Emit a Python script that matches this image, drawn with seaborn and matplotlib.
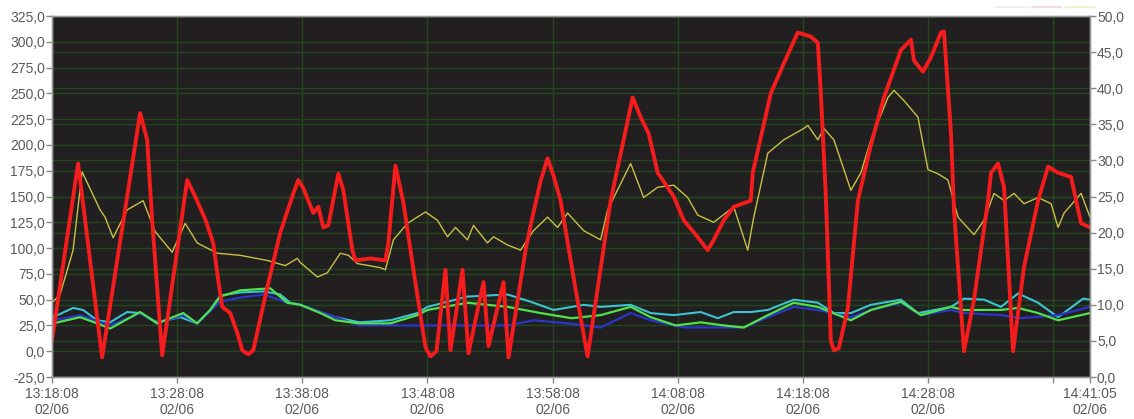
import matplotlib
matplotlib.use("Agg")
import matplotlib.pyplot as plt
import seaborn as sns
import pandas as pd
from matplotlib.lines import Line2D

# ---- data: time in minutes after 13:18:08, values on the left scale ----
red_t = [0.0, 2.08, 4.0, 7.04, 7.6, 8.0, 8.8, 10.8, 11.44, 12.24, 12.88, 13.28, 13.6, 14.24,
         14.8, 15.2, 15.68, 16.08, 17.2, 18.24, 19.28, 19.68, 20.08, 20.88, 21.28, 21.68,
         22.08, 22.88, 23.28, 24.0, 24.24, 25.44, 26.64, 26.88, 27.44, 28.08, 28.88, 29.84,
         30.24, 30.72, 31.44, 31.84, 32.8, 33.28, 34.48, 34.88, 36.08, 36.48, 37.84, 38.3,
         39.04, 39.6, 40.08, 40.64, 41.84, 42.8, 44.64, 46.4, 47.04, 47.68, 48.4, 48.8, 49.68,
         50.48, 51.44, 52.4, 52.88, 53.68, 54.48, 55.84, 56.0, 57.44, 58.48, 59.6, 60.64, 61.2,
         61.44, 61.84, 62.24, 62.48, 62.88, 63.6, 64.4, 65.44, 66.48, 67.84, 68.64, 68.88,
         69.6, 70.24, 71.04, 71.28, 71.84, 72.08, 72.88, 73.68, 74.8, 75.04, 75.6, 76.08,
         76.8, 77.68, 78.8, 79.6, 80.4, 81.44, 82.0, 82.24, 82.95]
red_v = [11, 182, -6, 231, 205, 127, -4, 166, 150, 128, 105, 69, 43, 37,
         18, 1, -3, 1, 62, 115, 153, 166, 158, 134, 140, 120,
         122, 172, 156, 98, 88, 90, 88, 105, 180, 144, 79, 4,
         -5, 0, 79, 1, 79, -2, 67, 5, 67, -6, 98, 125,
         165, 187, 170, 146, 60, -5, 146, 246, 227, 211, 173, 166, 150,
         127, 113, 98, 108, 127, 140, 146, 173, 250, 279, 309, 305, 299,
         250, 150, 10, 1, 3, 42, 146, 200, 246, 292, 302, 282,
         271, 285, 309, 310, 211, 137, 0, 50, 146, 173, 182, 159,
         0, 82, 146, 179, 173, 169, 137, 124, 120]

yellow_t = [0.08, 0.64, 1.68, 2.4, 3.84, 4.24, 4.88, 6.0, 7.28, 8.24, 9.6, 10.64, 11.6, 13.2,
            15.04, 17.2, 18.64, 19.6, 19.84, 21.2, 22.0, 23.04, 23.68, 24.4, 26.24, 26.64,
            27.28, 28.4, 29.84, 30.8, 31.6, 32.24, 33.2, 33.68, 34.8, 35.28, 36.4, 37.44,
            38.48, 39.6, 40.4, 41.2, 42.48, 43.84, 44.4, 46.24, 47.28, 48.4, 49.68, 50.8,
            51.6, 52.88, 54.48, 55.6, 56.08, 57.2, 58.48, 60.08, 60.4, 61.2, 61.68, 62.48,
            63.84, 64.64, 65.44, 66.8, 67.28, 68.08, 69.2, 70.0, 70.8, 71.6, 72.4, 73.68,
            74.48, 75.28, 76.08, 76.88, 77.68, 78.8, 79.84, 80.4, 80.88, 82.24, 82.95]
yellow_v = [48, 55, 98, 174, 137, 130, 110, 137, 146, 116, 96, 124, 105, 95,
            93, 88, 83, 90, 86, 72, 76, 95, 93, 85, 81, 79,
            108, 124, 135, 127, 111, 120, 108, 122, 105, 111, 103, 98,
            117, 130, 120, 134, 117, 108, 137, 182, 149, 159, 161, 149,
            132, 125, 140, 98, 130, 192, 205, 216, 219, 205, 216, 205,
            156, 173, 205, 246, 253, 243, 227, 176, 172, 166, 130, 113,
            127, 153, 146, 153, 143, 149, 143, 120, 134, 153, 130]

cyan_t = [0.08, 1.68, 2.48, 3.6, 4.64, 6.0, 7.04, 8.4, 10.24, 11.6, 12.64, 13.44, 15.04,
          16.96, 18.24, 19.04, 19.84, 22.64, 24.56, 27.04, 29.2, 30.0, 33.2, 36.4, 38.24,
          40.08, 42.48, 43.84, 46.24, 47.84, 49.68, 51.84, 53.2, 54.48, 55.84, 57.2, 59.28,
          61.2, 62.48, 63.84, 65.44, 67.84, 69.2, 71.84, 72.88, 74.48, 75.84, 77.2, 78.8,
          80.4, 82.4, 82.95]
cyan_v = [33, 42, 40, 30, 28, 38, 37, 28, 33, 27, 40, 54, 57,
          58, 55, 47, 45, 33, 28, 30, 37, 43, 53, 55, 48,
          40, 45, 43, 45, 37, 35, 38, 32, 38, 38, 40, 50,
          47, 37, 37, 45, 50, 37, 43, 51, 50, 43, 56, 47,
          33, 51, 50]

green_t = [0.08, 2.24, 3.6, 4.64, 5.84, 7.04, 8.4, 10.48, 11.6, 12.64, 13.44, 15.04, 17.44,
           18.8, 19.84, 21.44, 22.64, 24.56, 27.04, 29.2, 30.0, 33.2, 36.4, 39.04, 41.52,
           43.84, 46.24, 47.84, 49.84, 51.84, 53.68, 55.28, 57.2, 59.28, 61.2, 63.84, 65.44,
           67.84, 69.44, 71.84, 72.88, 75.84, 77.2, 78.8, 80.4, 82.95]
green_v = [27, 33, 27, 22, 30, 38, 27, 37, 27, 40, 53, 59, 61,
           47, 45, 37, 30, 27, 27, 35, 40, 47, 43, 37, 32,
           35, 43, 33, 25, 28, 25, 23, 35, 47, 43, 30, 40,
           48, 35, 43, 40, 40, 42, 37, 30, 37]

blue_t = [0.08, 2.24, 4.64, 7.04, 8.4, 10.48, 11.6, 13.44, 15.04, 16.96, 18.8, 19.84, 22.64,
          24.56, 26.64, 33.2, 36.4, 38.48, 41.2, 43.84, 46.24, 47.84, 50.48, 55.28, 57.2,
          59.28, 61.2, 63.84, 65.44, 67.84, 69.44, 71.84, 72.88, 75.84, 77.44, 80.4, 82.95]
blue_v = [30, 35, 25, 37, 27, 35, 27, 48, 52, 55, 47, 45, 33,
          25, 25, 25, 25, 30, 27, 23, 37, 30, 23, 23, 33,
          43, 40, 33, 40, 47, 35, 40, 37, 35, 32, 35, 43]

# x axis ticks (minutes) and their labels
tick_minutes = [0, 10, 20, 30, 40, 50, 60, 70, 80, 82.95]
tick_labels = ["13:18:08\n02/06", "13:28:08\n02/06", "13:38:08\n02/06", "13:48:08\n02/06",
               "13:58:08\n02/06", "14:08:08\n02/06", "14:18:08\n02/06", "14:28:08\n02/06",
               "", "14:41:05\n02/06"]

left_ticks = [-25 + 25 * i for i in range(15)]
right_ticks = [5 * i for i in range(11)]

sns.set_theme(style="dark")
plt.rcParams["font.family"] = ["Liberation Sans", "DejaVu Sans"]

fig = plt.figure(figsize=(11.34, 4.19), dpi=100, facecolor="white")
ax = fig.add_axes([0.0459, 0.1002, 0.9153, 0.8616])
ax.set_facecolor("#211f20")

grid_col = "#23461f"
text_col = "#5a5a5a"

# left scale and its grid
ax.set_ylim(-25, 325)
ax.set_xlim(0, 82.95)
ax.set_yticks(left_ticks)
ax.set_yticklabels([f"{v:.1f}".replace(".", ",") for v in left_ticks])
ax.set_xticks(tick_minutes)
ax.set_xticklabels(tick_labels)
ax.grid(True, color=grid_col, linewidth=1.0)
ax.set_axisbelow(True)

# right scale: 0..50 maps onto -25..325
ax2 = ax.twinx()
ax2.set_ylim(0, 50)
ax2.set_yticks(right_ticks)
ax2.set_yticklabels([f"{v:.1f}".replace(".", ",") for v in right_ticks])
ax2.grid(False)
for v in right_ticks:
    ax.axhline(v * 7 - 25, color=grid_col, linewidth=1.0, zorder=0.5)

series = [
    ("blue", blue_t, blue_v, "#2b35c8", 1.6),
    ("green", green_t, green_v, "#4fe24a", 1.6),
    ("cyan", cyan_t, cyan_v, "#3cc4d2", 1.5),
    ("yellow", yellow_t, yellow_v, "#c9c046", 1.0),
    ("red", red_t, red_v, "#f41c1c", 2.8),
]
# draw the three low channels first, then yellow, red on top
order = ["cyan", "blue", "green", "yellow", "red"]
by_name = {s[0]: s for s in series}
for name in order:
    _, t, v, col, lw = by_name[name]
    df = pd.DataFrame({"t": t, "v": v})
    sns.lineplot(data=df, x="t", y="v", ax=ax, color=col, linewidth=lw,
                 estimator=None, sort=False, legend=False)

ax.set_xlabel("")
ax.set_ylabel("")
ax2.set_ylabel("")

for a in (ax, ax2):
    for side, sp in a.spines.items():
        sp.set_color("#9a9a9a")
        sp.set_linewidth(1.0)
    a.tick_params(axis="both", colors=text_col, labelsize=10, length=4, width=1,
                  direction="out", pad=1)
    a.tick_params(axis="y", colors="#888888", labelcolor=text_col)
    a.tick_params(axis="x", colors="#888888", labelcolor=text_col)
ax.tick_params(axis="x", bottom=True, pad=3)
ax.tick_params(axis="y", left=True)
ax2.tick_params(axis="y", right=True)

# faint channel keys above the plot
for x0, x1, c in [(0.878, 0.907, "#ececec"), (0.910, 0.936, "#f6d2dc"),
                  (0.939, 0.966, "#f0f0c8")]:
    fig.add_artist(Line2D([x0, x1], [0.983, 0.983], transform=fig.transFigure,
                          color=c, linewidth=1.2))

fig.savefig("out.png", dpi=100, facecolor="white")
